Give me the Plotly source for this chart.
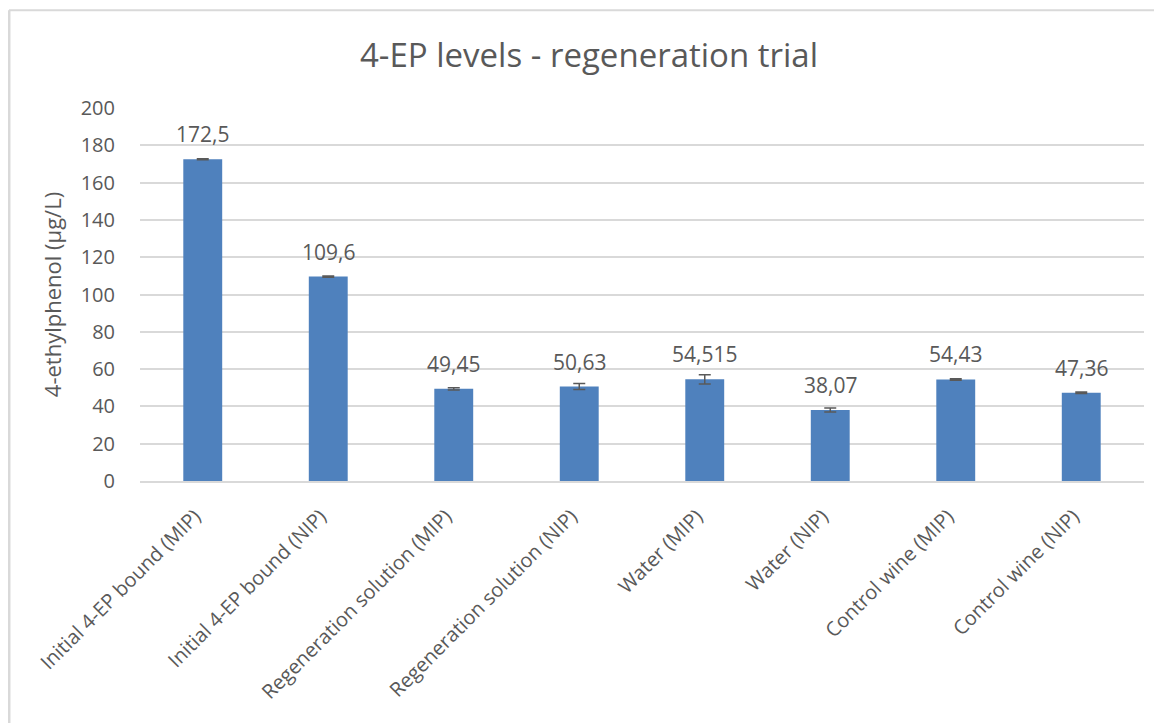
import plotly.graph_objects as go

categories = [
    "Initial 4-EP bound (MIP)",
    "Initial 4-EP bound (NIP)",
    "Regeneration solution (MIP)",
    "Regeneration solution (NIP)",
    "Water (MIP)",
    "Water (NIP)",
    "Control wine (MIP)",
    "Control wine (NIP)",
]
values = [172.5, 109.6, 49.45, 50.63, 54.515, 38.07, 54.43, 47.36]
errors = [0.3, 0.3, 0.6, 1.6, 2.5, 1.1, 0.4, 0.4]
value_labels = ["172,5", "109,6", "49,45", "50,63", "54,515", "38,07", "54,43", "47,36"]
y_ticks = [0, 20, 40, 60, 80, 100, 120, 140, 160, 180, 200]

TXT = "#595959"
FONT = "Open Sans"

fig = go.Figure()
fig.add_trace(go.Bar(
    x=categories,
    y=values,
    marker=dict(color="#4F81BD", line=dict(color="#4F81BD", width=0)),
    error_y=dict(type="data", array=errors, visible=True, color="#595959", thickness=1.5, width=6),
    hoverinfo="skip",
))

for c, v, t in zip(categories, values, value_labels):
    fig.add_annotation(x=c, y=v, text=t, showarrow=False, yanchor="middle", yshift=25,
                       font=dict(family=FONT, size=21, color=TXT))

# page body has an 8px margin; plot area placed so that it lands at x 140-1144, y 108-481 on screen
fig.update_layout(
    width=1162, height=723,
    margin=dict(l=132, r=26, t=100, b=250),
    paper_bgcolor="white", plot_bgcolor="white",
    bargap=0.69,
    showlegend=False,
    title=dict(text="4-EP levels - regeneration trial", x=0.5, xanchor="center",
               y=1 - 47 / 723, yanchor="middle",
               font=dict(family=FONT, size=33, color=TXT)),
    font=dict(family=FONT, color=TXT),
    xaxis=dict(tickangle=-45, tickfont=dict(family=FONT, size=20, color=TXT),
               showgrid=False, showline=True, linecolor="#D9D9D9", linewidth=1.5,
               ticks="", automargin=False, ticklabelstandoff=14, ticklabelshift=-8),
    yaxis=dict(range=[0, 200], tickvals=y_ticks, tickfont=dict(family=FONT, size=20, color=TXT),
               showgrid=True, gridcolor="#D9D9D9", gridwidth=1.5, zeroline=False,
               ticks="outside", ticklen=20, tickcolor="rgba(0,0,0,0)", automargin=False,
               title=dict(text="4-ethylphenol (µg/L)", font=dict(family=FONT, size=22, color=TXT),
                          standoff=12)),
    shapes=[
        dict(type="line", xref="paper", yref="paper", x0=-0.1305, x1=-0.1305, y0=-0.8, y1=1.262,
             line=dict(color="#D9D9D9", width=3)),
        dict(type="line", xref="paper", yref="paper", x0=-0.1305, x1=1.2, y0=1.262, y1=1.262,
             line=dict(color="#D9D9D9", width=2)),
    ],
)

fig.write_html("out.html")
